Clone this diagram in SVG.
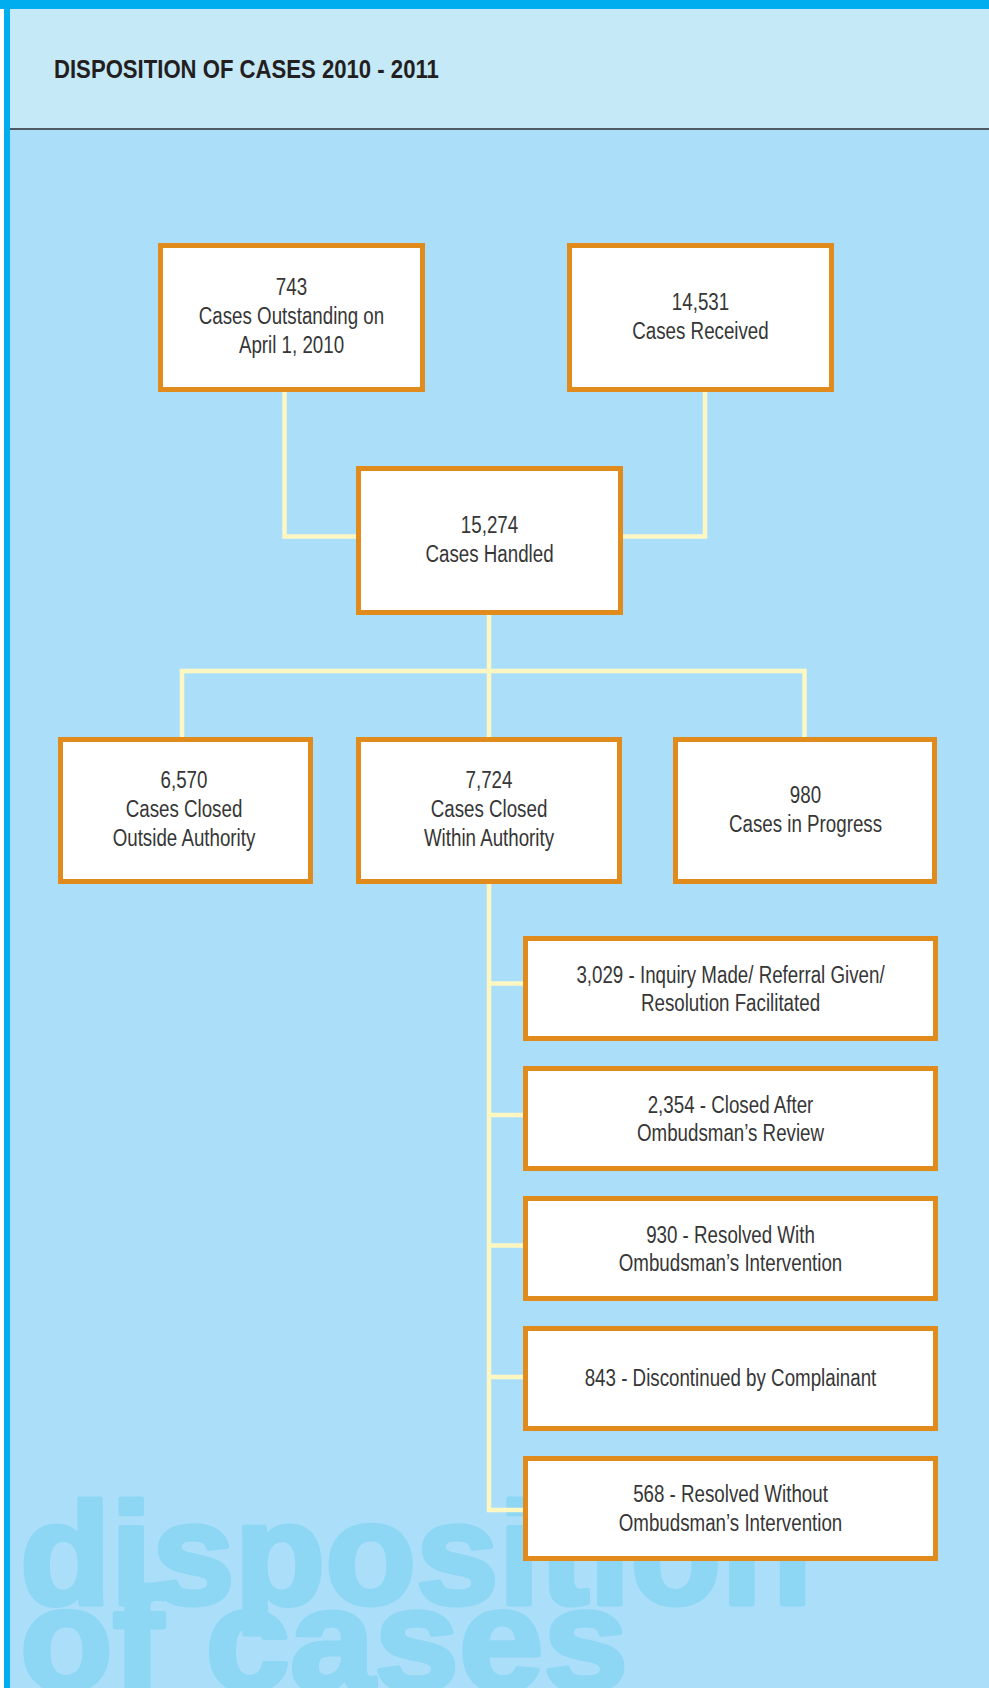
<svg xmlns="http://www.w3.org/2000/svg" width="989" height="1688" viewBox="0 0 989 1688">
  <style>
    .box { fill: #ffffff; stroke: #e08b1b; stroke-width: 5; }
    .wire { fill: none; stroke: #fff7c2; stroke-width: 4.5; stroke-linejoin: miter; stroke-linecap: butt; }
    .lbl { font-family: "Liberation Sans", Arial, sans-serif; font-size: 23px; fill: #363636; text-anchor: middle; }
    .title { font-family: "Liberation Sans", Arial, sans-serif; font-size: 26.5px; font-weight: bold; fill: #231f20; }
    .mark { font-family: "Liberation Sans", Arial, sans-serif; font-size: 144px; font-weight: bold; fill: #8dd7f5; stroke: #8dd7f5; stroke-width: 5; stroke-linejoin: round; }
  </style>

  <!-- page background -->
  <rect x="0" y="0" width="989" height="1688" fill="#ffffff"/>
  <rect x="4" y="130" width="985" height="1558" fill="#abdff9"/>
  <rect x="4" y="9" width="985" height="119" fill="#c6e9f8"/>
  <rect x="10" y="128" width="979" height="2" fill="#4e5b61"/>
  <rect x="0" y="0" width="989" height="9" fill="#00aeef"/>
  <rect x="4" y="0" width="6" height="1688" fill="#00aeef"/>

  <!-- heading -->
  <text class="title" transform="translate(54 77.5) scale(0.835 1)">DISPOSITION OF CASES 2010 - 2011</text>

  <!-- background lettering -->
  <g id="watermark">
    <text class="mark" x="20" y="1604" textLength="792" lengthAdjust="spacingAndGlyphs">disposition</text>
    <text class="mark" x="20" y="1690" textLength="608" lengthAdjust="spacingAndGlyphs">of cases</text>
  </g>

  <!-- connectors -->
  <g id="connectors">
    <polyline class="wire" points="284.5,392 284.5,536.5 356,536.5"/>
    <polyline class="wire" points="705,392 705,536.5 623,536.5"/>
    <line class="wire" x1="489" y1="615" x2="489" y2="737"/>
    <polyline class="wire" points="182,737 182,671 804.5,671 804.5,737"/>
    <polyline class="wire" points="489,884 489,1510 523,1510"/>
    <line class="wire" x1="489" y1="983.5" x2="523" y2="983.5"/>
    <line class="wire" x1="489" y1="1115" x2="523" y2="1115"/>
    <line class="wire" x1="489" y1="1245.5" x2="523" y2="1245.5"/>
    <line class="wire" x1="489" y1="1377" x2="523" y2="1377"/>
  </g>

  <!-- nodes -->
  <g id="outstanding">
    <rect class="box" x="160.5" y="245.5" width="262" height="144"/>
    <text class="lbl" transform="translate(291.5 0) scale(0.815 1)"><tspan x="0" y="295">743</tspan><tspan x="0" y="324">Cases Outstanding on</tspan><tspan x="0" y="353">April 1, 2010</tspan></text>
  </g>

  <g id="received">
    <rect class="box" x="569.5" y="245.5" width="262" height="144"/>
    <text class="lbl" transform="translate(700.5 0) scale(0.815 1)"><tspan x="0" y="310">14,531</tspan><tspan x="0" y="339">Cases Received</tspan></text>
  </g>

  <g id="handled">
    <rect class="box" x="358.5" y="468.5" width="262" height="144"/>
    <text class="lbl" transform="translate(489.5 0) scale(0.815 1)"><tspan x="0" y="533">15,274</tspan><tspan x="0" y="562">Cases Handled</tspan></text>
  </g>

  <g id="closed-outside">
    <rect class="box" x="60.5" y="739.5" width="250" height="142"/>
    <text class="lbl" transform="translate(184 0) scale(0.815 1)"><tspan x="0" y="788">6,570</tspan><tspan x="0" y="817.5">Cases Closed</tspan><tspan x="0" y="846.5">Outside Authority</tspan></text>
  </g>

  <g id="closed-within">
    <rect class="box" x="358.5" y="739.5" width="261" height="142"/>
    <text class="lbl" transform="translate(489 0) scale(0.815 1)"><tspan x="0" y="788">7,724</tspan><tspan x="0" y="817.5">Cases Closed</tspan><tspan x="0" y="846.5">Within Authority</tspan></text>
  </g>

  <g id="in-progress">
    <rect class="box" x="675.5" y="739.5" width="259" height="142"/>
    <text class="lbl" transform="translate(805.5 0) scale(0.815 1)"><tspan x="0" y="803">980</tspan><tspan x="0" y="832">Cases in Progress</tspan></text>
  </g>

  <g id="inquiry">
    <rect class="box" x="525.5" y="938.5" width="410" height="100"/>
    <text class="lbl" transform="translate(730.5 0) scale(0.815 1)"><tspan x="0" y="983">3,029 - Inquiry Made/ Referral Given/</tspan><tspan x="0" y="1011.5">Resolution Facilitated</tspan></text>
  </g>

  <g id="review">
    <rect class="box" x="525.5" y="1068.5" width="410" height="100"/>
    <text class="lbl" transform="translate(730.5 0) scale(0.815 1)"><tspan x="0" y="1113">2,354 - Closed After</tspan><tspan x="0" y="1141.5">Ombudsman’s Review</tspan></text>
  </g>

  <g id="with-intervention">
    <rect class="box" x="525.5" y="1198.5" width="410" height="100"/>
    <text class="lbl" transform="translate(730.5 0) scale(0.815 1)"><tspan x="0" y="1243">930 - Resolved With</tspan><tspan x="0" y="1271.5">Ombudsman’s Intervention</tspan></text>
  </g>

  <g id="discontinued">
    <rect class="box" x="525.5" y="1328.5" width="410" height="100"/>
    <text class="lbl" transform="translate(730.5 0) scale(0.815 1)"><tspan x="0" y="1386.5">843 - Discontinued by Complainant</tspan></text>
  </g>

  <g id="without-intervention">
    <rect class="box" x="525.5" y="1458.5" width="410" height="100"/>
    <text class="lbl" transform="translate(730.5 0) scale(0.815 1)"><tspan x="0" y="1502">568 - Resolved Without</tspan><tspan x="0" y="1531">Ombudsman’s Intervention</tspan></text>
  </g>
</svg>
